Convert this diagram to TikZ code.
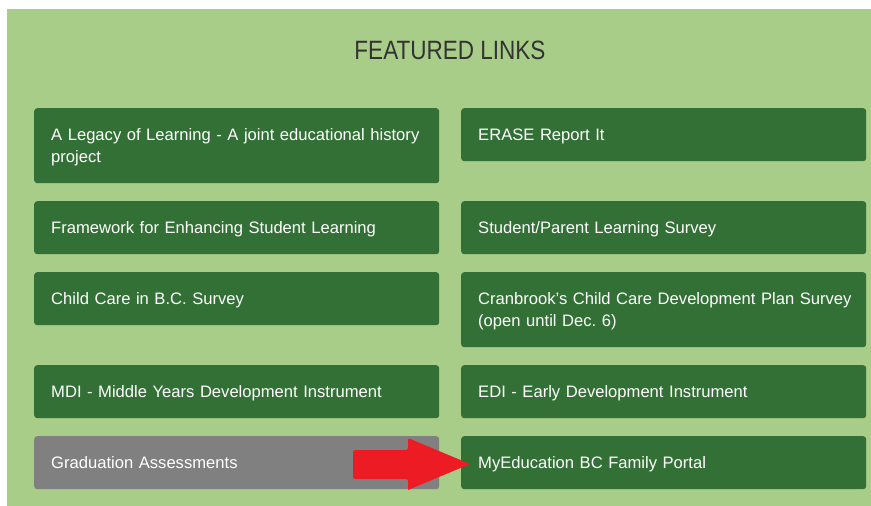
\documentclass[tikz,border=0pt]{standalone}
\usepackage{fontspec}
\setmainfont[WordSpace=0.8]{Liberation Sans}
\newfontfamily\titlefont[FakeStretch=0.85]{Liberation Sans}
\frenchspacing
\definecolor{bggreen}{HTML}{A8CD88}
\definecolor{btngreen}{HTML}{327035}
\definecolor{btngray}{HTML}{808080}
\definecolor{arrowred}{HTML}{ED1C24}
\definecolor{titlegray}{HTML}{333333}
\tikzset{
  linkbox/.style={rectangle, rounded corners=3pt, fill=btngreen, text=white,
    anchor=north west, inner xsep=17pt, inner ysep=0pt, text width=371pt,
    align=left, minimum height=53pt, font=\fontsize{16.6}{22}\selectfont,
    execute at begin node={\rule[-3.6pt]{0pt}{19.6pt}}},
  graybox/.style={linkbox, fill=btngray},
}
\begin{document}
\begin{tikzpicture}[x=1pt,y=-1pt]
\useasboundingbox (0,0) rectangle (871,506);
\fill[white] (0,0) rectangle (871,506);
\fill[bggreen] (7,9) rectangle (871,506);
\node[text=titlegray, font=\titlefont\fontsize{26.5}{30}\selectfont] (title) at (450,50) {FEATURED LINKS};
% left column
\node[linkbox, minimum height=75pt] (l1) at (34,108) {\mbox{A Legacy of Learning - A joint educational history}\\project};
\node[linkbox] (l2) at (34,201) {Framework for Enhancing Student Learning};
\node[linkbox] (l3) at (34,272) {Child Care in B.C. Survey};
\node[linkbox] (l4) at (34,365) {MDI - Middle Years Development Instrument};
\node[graybox] (l5) at (34,436) {Graduation Assessments};
% right column
\node[linkbox] (r1) at (461,108) {ERASE Report It};
\node[linkbox] (r2) at (461,201) {Student/Parent Learning Survey};
\node[linkbox, minimum height=75pt] (r3) at (461,272) {\mbox{Cranbrook\symbol{39}s Child Care Development Plan Survey}\\(open until Dec. 6)};
\node[linkbox] (r4) at (461,365) {EDI - Early Development Instrument};
\node[linkbox] (r5) at (461,436) {MyEducation BC Family Portal};
% red arrow
\fill[arrowred, rounded corners=2pt] (353,450) -- (408,450) -- (408,438) [sharp corners] -- (470,464) -- (408,490) [rounded corners=2pt] -- (408,479) -- (353,479) -- cycle;
\end{tikzpicture}
\end{document}
